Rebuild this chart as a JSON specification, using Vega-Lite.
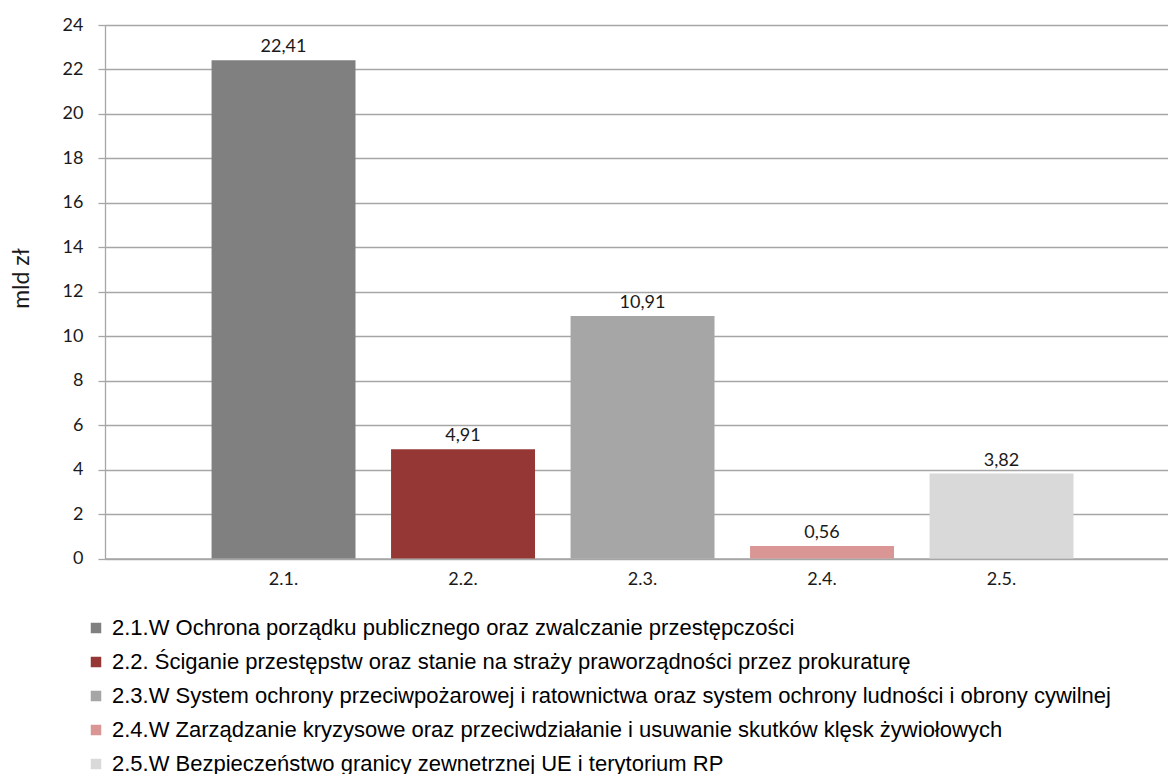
{
  "$schema": "https://vega.github.io/schema/vega-lite/v6.json",
  "autosize": "none",
  "padding": {"left": 105, "top": 25, "right": 0, "bottom": 215.5},
  "width": 1063,
  "height": 533.5,
  "background": "white",
  "config": {
    "locale": {"number": {"decimal": ",", "thousands": " ", "grouping": [3], "currency": ["", " zł"]}},
    "view": {"stroke": null},
    "font": "Lato"
  },
  "data": {
    "values": [
      {"kod": "2.1.", "legenda": "2.1.W Ochrona porządku publicznego oraz zwalczanie przestępczości", "wartosc": 22.41},
      {"kod": "2.2.", "legenda": "2.2. Ściganie przestępstw oraz stanie na straży praworządności przez prokuraturę", "wartosc": 4.91},
      {"kod": "2.3.", "legenda": "2.3.W System ochrony przeciwpożarowej i ratownictwa oraz system ochrony ludności i obrony cywilnej", "wartosc": 10.91},
      {"kod": "2.4.", "legenda": "2.4.W Zarządzanie kryzysowe oraz przeciwdziałanie i usuwanie skutków klęsk żywiołowych", "wartosc": 0.56},
      {"kod": "2.5.", "legenda": "2.5.W Bezpieczeństwo granicy zewnetrznej UE i terytorium RP", "wartosc": 3.82}
    ]
  },
  "encoding": {
    "x": {
      "field": "kod", "type": "nominal", "sort": null,
      "scale": {"paddingInner": 0.198, "paddingOuter": 0.56, "align": 0.53},
      "axis": {
        "title": null, "labelAngle": 0, "ticks": false,
        "domainColor": "#a6a6a6", "domainWidth": 1.3,
        "labelFont": "Lato", "labelFontSize": 18, "labelColor": "#1a1a1a", "labelPadding": 12
      }
    },
    "y": {
      "field": "wartosc", "type": "quantitative",
      "scale": {"domain": [0, 24], "nice": false},
      "axis": {
        "values": [0, 2, 4, 6, 8, 10, 12, 14, 16, 18, 20, 22, 24],
        "title": "mld zł", "titleFont": "Lato", "titleFontSize": 23, "titleFontWeight": "normal",
        "titleColor": "#1a1a1a", "titleX": -84, "titleY": 253, "titleAngle": -90,
        "titleAlign": "center", "titleBaseline": "middle",
        "labelFont": "Lato", "labelFontSize": 18, "labelColor": "#1a1a1a", "labelPadding": 15,
        "tickSize": 7, "tickColor": "#a6a6a6", "tickWidth": 1.3,
        "domainColor": "#a6a6a6", "domainWidth": 1.3,
        "grid": true, "gridColor": "#a6a6a6", "gridWidth": 1.3
      }
    }
  },
  "layer": [
    {
      "mark": {"type": "bar"},
      "encoding": {
        "color": {
          "field": "legenda", "type": "nominal", "sort": null,
          "scale": {
            "domain": [
              "2.1.W Ochrona porządku publicznego oraz zwalczanie przestępczości",
              "2.2. Ściganie przestępstw oraz stanie na straży praworządności przez prokuraturę",
              "2.3.W System ochrony przeciwpożarowej i ratownictwa oraz system ochrony ludności i obrony cywilnej",
              "2.4.W Zarządzanie kryzysowe oraz przeciwdziałanie i usuwanie skutków klęsk żywiołowych",
              "2.5.W Bezpieczeństwo granicy zewnetrznej UE i terytorium RP"
            ],
            "range": ["#808080", "#953735", "#a6a6a6", "#d99694", "#d9d9d9"]
          },
          "legend": {
            "orient": "none", "legendX": -20, "legendY": 592, "title": null,
            "symbolType": "square", "symbolSize": 110, "symbolStrokeWidth": 0,
            "labelFont": "Liberation Sans", "labelFontSize": 22, "labelColor": "#000000",
            "labelLimit": 1200, "rowPadding": 12, "labelOffset": 5
          }
        }
      }
    },
    {
      "mark": {"type": "text", "baseline": "alphabetic", "dy": -8, "font": "Lato", "fontSize": 18, "color": "#1a1a1a"},
      "encoding": {
        "text": {"field": "wartosc", "type": "quantitative", "format": ".2f"}
      }
    }
  ]
}
